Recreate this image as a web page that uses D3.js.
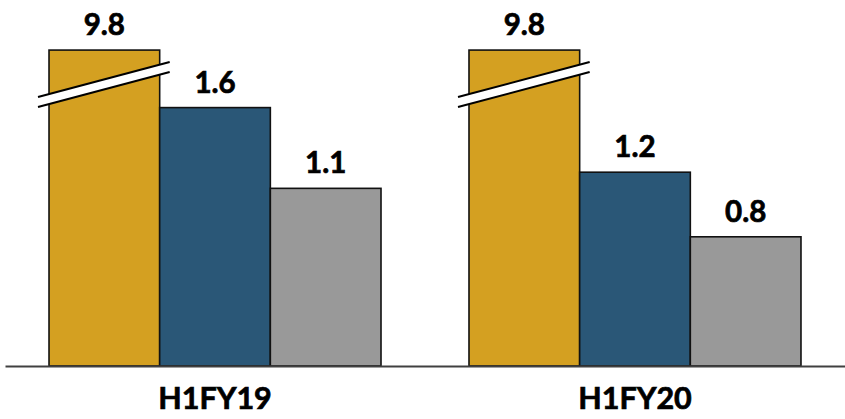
<!DOCTYPE html>
<html>
<head>
<meta charset="utf-8">
<script src="https://cdn.jsdelivr.net/npm/d3@7"></script>
<style>
  html, body { margin: 0; padding: 0; background: #ffffff; }
  svg { display: block; }
  text { font-family: Lato, "Open Sans", sans-serif; font-weight: 700; }
</style>
</head>
<body>
<svg id="chart" width="845" height="419"></svg>
<script>
// Period labels along the x axis
const categories = ["H1FY19", "H1FY20"];
// Three series per period; the first one is drawn on a broken scale
const seriesFirst = [9.8, 9.8];
const seriesSecond = [1.6, 1.2];
const seriesThird = [1.1, 0.8];
const seriesColors = ["#D4A021", "#2A5777", "#999999"];

const W = 845, H = 419;
const baseY = 366;

const svg = d3.select("#chart");

const x0 = d3.scaleBand()
  .domain(categories)
  .range([5, 845])
  .paddingInner(0.2095)
  .paddingOuter(0.1048);

const x1 = d3.scaleBand()
  .domain([0, 1, 2])
  .range([0, x0.bandwidth()])
  .padding(0);

// Regular value scale
const y = d3.scaleLinear().domain([0, 2]).range([baseY, baseY - 323]);
// Scale with a break between ~1.95 and 9.6 for the tall series
const yBroken = d3.scaleLinear()
  .domain([0, 1.95, 9.6, 10])
  .range([baseY, y(1.95), y(1.95), y(1.95) - 2]);

const rows = categories.map((c, i) => ({
  cat: c,
  vals: [seriesFirst[i], seriesSecond[i], seriesThird[i]]
}));

const groups = svg.selectAll("g.grp")
  .data(rows)
  .join("g")
  .attr("class", "grp")
  .attr("transform", d => `translate(${x0(d.cat)},0)`);

const scaleFor = k => (k === 0 ? yBroken : y);

groups.selectAll("rect.bar")
  .data(d => d.vals.map((v, k) => ({ v, k })))
  .join("rect")
  .attr("class", "bar")
  .attr("x", d => x1(d.k))
  .attr("width", x1.bandwidth())
  .attr("y", d => scaleFor(d.k)(d.v))
  .attr("height", d => baseY - scaleFor(d.k)(d.v))
  .attr("fill", d => seriesColors[d.k])
  .attr("stroke", "#111111")
  .attr("stroke-width", 1.6);

// Break marker across the first bar of each group
groups.each(function () {
  const g = d3.select(this);
  const bw = x1.bandwidth();
  const xl = x1(0) - 11, xr = x1(0) + bw + 10;
  const yl = 97, yr = 62, gap = 10;
  g.append("path")
    .attr("d", `M${xl},${yl} L${xr},${yr} L${xr},${yr + gap} L${xl},${yl + gap} Z`)
    .attr("fill", "#ffffff")
    .attr("stroke", "none");
  [0, gap].forEach(off => {
    g.append("line")
      .attr("x1", xl).attr("y1", yl + off)
      .attr("x2", xr).attr("y2", yr + off)
      .attr("stroke", "#000000")
      .attr("stroke-width", 2);
  });
});

// Value labels above each bar
groups.selectAll("text.val")
  .data(d => d.vals.map((v, k) => ({ v, k })))
  .join("text")
  .attr("class", "val")
  .attr("x", d => x1(d.k) + x1.bandwidth() / 2)
  .attr("y", d => scaleFor(d.k)(d.v) - 15)
  .attr("text-anchor", "middle")
  .attr("font-size", 29.5)
  .attr("fill", "#000000")
  .attr("stroke", "#000000")
  .attr("stroke-width", 0.7)
  .text(d => d3.format(".1f")(d.v));

// Category axis
const axis = svg.append("g")
  .attr("transform", `translate(0,${baseY})`)
  .call(d3.axisBottom(x0).tickSize(0).tickSizeOuter(0).tickPadding(21));
axis.select(".domain").attr("stroke", "#404040").attr("stroke-width", 2);
axis.selectAll(".tick text")
  .attr("font-size", 30.5)
  .attr("font-family", "Lato, 'Open Sans', sans-serif")
  .attr("font-weight", 700)
  .attr("fill", "#000000")
  .attr("stroke", "#000000")
  .attr("stroke-width", 0.7);
</script>
</body>
</html>
